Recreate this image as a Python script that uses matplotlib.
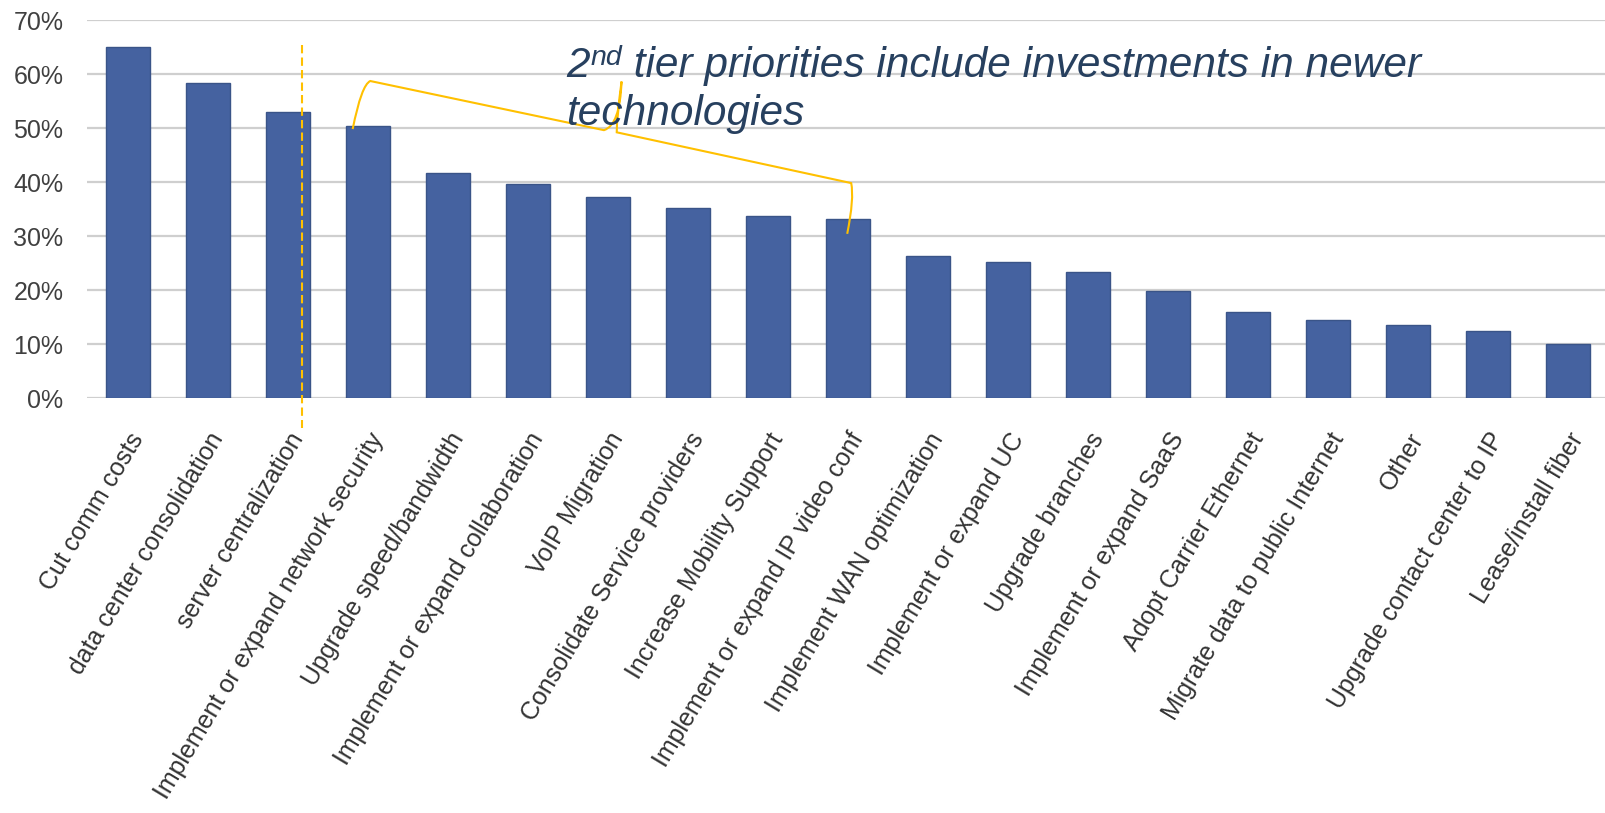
import numpy as np
import matplotlib.pyplot as plt
from matplotlib.path import Path
from matplotlib.patches import PathPatch

plt.rcParams['font.family'] = ['Liberation Sans', 'DejaVu Sans']

categories = ['Cut comm costs', 'data center consolidation', 'server centralization',
              'Implement or expand network security', 'Upgrade speed/bandwidth',
              'Implement or expand collaboration', 'VoIP Migration',
              'Consolidate Service providers', 'Increase Mobility Support',
              'Implement or expand IP video conf', 'Implement WAN optimization',
              'Implement or expand UC', 'Upgrade branches', 'Implement or expand SaaS',
              'Adopt Carrier Ethernet', 'Migrate data to public Internet', 'Other',
              'Upgrade contact center to IP', 'Lease/install fiber']
values = [65.0, 58.3, 53.0, 50.4, 41.7, 39.6, 37.3, 35.1, 33.7, 33.1,
          26.3, 25.2, 23.4, 19.8, 15.9, 14.4, 13.5, 12.4, 10.0]
yticks = [0, 10, 20, 30, 40, 50, 60, 70]

bar_color = '#4562a0'
gold = '#ffc000'
navy = '#27405f'

W, H = 1605, 813
fig = plt.figure(figsize=(W/100, H/100), dpi=100)
ax = fig.add_axes([87/W, 1 - 398/H, 1 - 87/W, 378/H])

x = np.arange(len(values))
ax.bar(x, values, width=0.55, color=bar_color, edgecolor='#3a5488', linewidth=1, zorder=3)

ax.set_xlim(-0.51, 18.46)
ax.set_ylim(0, 70)
ax.set_yticks(yticks)
ax.set_yticklabels([f'{v}%' for v in yticks], fontsize=18, color='#404040')
ax.yaxis.grid(True, color='#cfcfcf', linewidth=1.6, zorder=0)
ax.set_axisbelow(True)
for s in ax.spines.values():
    s.set_visible(False)
ax.tick_params(axis='y', length=0, pad=17)

ax.set_xticks(x)
ax.set_xticklabels(categories, rotation=59, ha='right', rotation_mode='anchor',
                   fontsize=18, color='#333333')
ax.tick_params(axis='x', length=0, pad=22)

# dashed separator after the top 3
ax.plot([2.18, 2.18], [65.4, -5.6], color=gold, lw=1.5, linestyle=(0, (4, 2)),
        clip_on=False, zorder=5)

# brace over the 2nd tier bars (idx 3..9)
i0, i1 = 3, 9
mid = (i0 + i1) / 2 + 0.17
verts = [(i0 - 0.19, values[i0] - 0.6), (i0 - 0.08, 58.0), (i0 + 0.03, 58.7),
         (mid - 0.22, 49.6),
         (mid - 0.02, 50.5), (mid, 58.6),
         (mid - 0.06, 52.0), (mid - 0.06, 49.2),
         (i1 + 0.04, 39.8),
         (i1 + 0.08, 37.0), (i1 - 0.01, values[i1] - 2.7)]
codes = [Path.MOVETO, Path.CURVE3, Path.CURVE3,
         Path.LINETO,
         Path.CURVE3, Path.CURVE3,
         Path.CURVE3, Path.CURVE3,
         Path.LINETO,
         Path.CURVE3, Path.CURVE3]
ax.add_patch(PathPatch(Path(verts, codes), fill=False, edgecolor=gold, lw=1.5,
                       clip_on=False, zorder=5))

# annotation: "2" + superscript "nd" + rest, placed one after another
renderer = fig.canvas.get_renderer()
x0, base1, base2 = 566, 77, 125
t1 = fig.text(x0/W, 1 - base1/H, '2', fontsize=30.5, style='italic', color=navy,
              va='baseline', ha='left')
w1 = t1.get_window_extent(renderer).width
t2 = fig.text((x0 + w1 + 1)/W, 1 - (base1 - 12)/H, 'nd', fontsize=20.5, style='italic',
              color=navy, va='baseline', ha='left')
w2 = t2.get_window_extent(renderer).width
fig.text((x0 + w1 + w2 + 1)/W, 1 - base1/H, ' tier priorities include investments in newer',
         fontsize=30.5, style='italic', color=navy, va='baseline', ha='left')
fig.text(x0/W, 1 - base2/H, 'technologies',
         fontsize=30.5, style='italic', color=navy, va='baseline', ha='left')

plt.savefig('out.png', dpi=100)
